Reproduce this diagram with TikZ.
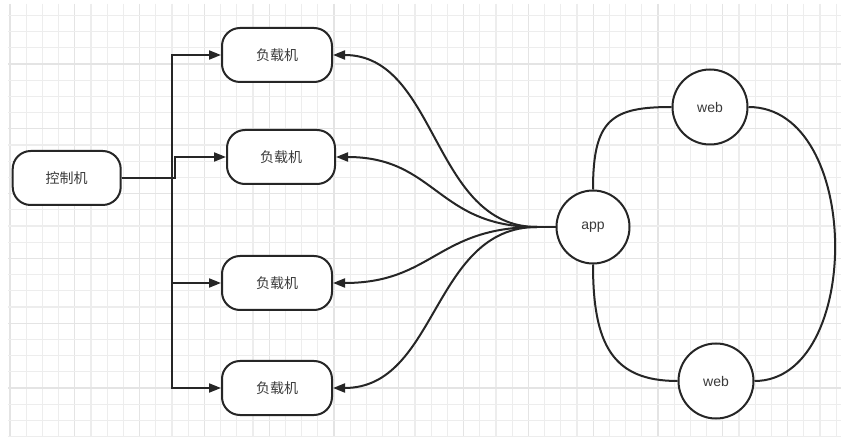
\documentclass[tikz,border=0pt]{standalone}
\usepackage{fontspec}
\setmainfont{Liberation Sans}
\newfontfamily\cjk{Noto Sans CJK SC}
\usetikzlibrary{arrows.meta}
\definecolor{lc}{HTML}{262626}
\definecolor{tc}{HTML}{3A3A3A}
\definecolor{gminor}{HTML}{EDEDED}
\definecolor{gmajor}{HTML}{E4E4E4}
\begin{document}
\begin{tikzpicture}[x=1pt,y=-1pt,
  box/.style={draw=lc, line width=2pt, rounded corners=18pt, minimum width=108pt, minimum height=54pt, fill=white, text=tc, font=\cjk\fontsize{14}{16}\selectfont, inner sep=0pt},
  circ/.style={circle, draw=lc, line width=2pt, fill=white, inner sep=0pt, text=tc, font=\fontsize{14}{16}\selectfont},
  conn/.style={draw=lc, line width=2pt},
  arr/.style={conn, -{Triangle[length=12pt,width=9pt]}}]
\useasboundingbox (0,0) rectangle (841,446);
\fill[white] (0,0) rectangle (841,446);
\begin{scope}
\clip (8,4) rectangle (841,437);
\foreach \i in {0,...,51} {
  \pgfmathsetmacro\xx{10+16.2*\i}
  \pgfmathtruncatemacro\m{mod(\i,4)}
  \ifnum\m=0 \draw[gmajor, line width=1.2pt] (\xx,4) -- (\xx,437);
  \else \draw[gminor, line width=1.2pt] (\xx,4) -- (\xx,437); \fi
}
\foreach \i in {0,...,27} {
  \pgfmathsetmacro\yy{-0.8+16.2*\i}
  \pgfmathtruncatemacro\m{mod(\i,4)}
  \ifnum\m=0 \draw[gmajor, line width=1.2pt] (8,\yy) -- (841,\yy);
  \else \draw[gminor, line width=1.2pt] (8,\yy) -- (841,\yy); \fi
}
\end{scope}

\node[box] (ctrl) at (66.7,178) {控制机};
\node[box, minimum width=110pt] (b1) at (277,55) {负载机};
\node[box] (b2) at (281,157) {负载机};
\node[box, minimum width=110pt] (b3) at (277,283) {负载机};
\node[box, minimum width=110pt] (b4) at (277,388) {负载机};
\node[circ, minimum size=73pt] (app) at (593,227) {app};
\node[circ, minimum size=75pt] (w1) at (710,107) {web};
\node[circ, minimum size=75pt] (w2) at (716,381) {web};

\coordinate (j1) at (172,178);
\coordinate (j2) at (175,178);
\draw[arr] (ctrl.east) -- (j1) |- (b1.west);
\draw[arr] (ctrl.east) -- (j1) |- (b3.west);
\draw[arr] (ctrl.east) -- (j1) |- (b4.west);
\draw[arr] (ctrl.east) -- (j2) |- (b2.west);

\coordinate (hub) at (537,227);
\draw[conn] (app.west) -- (hub);
\draw[arr] (hub) .. controls +(-105,0) and +(105,0) .. (b1.east);
\draw[arr] (hub) .. controls +(-100,0) and +(100,0) .. (b2.east);
\draw[arr] (hub) .. controls +(-100,0) and +(100,0) .. (b3.east);
\draw[arr] (hub) .. controls +(-105,0) and +(105,0) .. (b4.east);

\draw[conn] (app.north) .. controls +(0,-70) and +(-60,0) .. (w1.west);
\draw[conn] (app.south) .. controls +(0,80) and +(-65,0) .. (w2.west);
\draw[conn] (w1.east) .. controls (863,107) and (863,381) .. (w2.east);
\end{tikzpicture}
\end{document}
